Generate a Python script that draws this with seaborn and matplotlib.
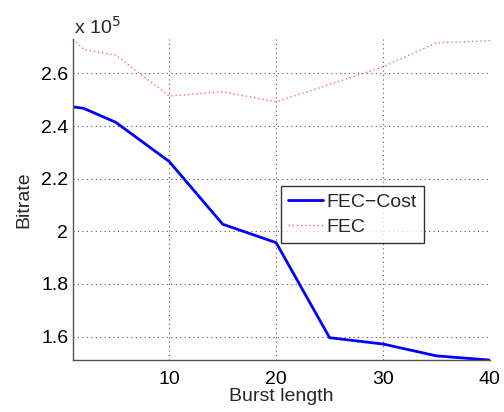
import matplotlib
matplotlib.use("Agg")
import matplotlib.pyplot as plt
import seaborn as sns
import pandas as pd
from matplotlib.ticker import FuncFormatter

burst = [1, 2, 5, 10, 15, 20, 25, 30, 35, 40]
fec_cost = [2.473e5, 2.467e5, 2.414e5, 2.265e5, 2.027e5, 1.957e5, 1.596e5, 1.572e5, 1.527e5, 1.511e5]
fec = [2.730e5, 2.691e5, 2.669e5, 2.514e5, 2.530e5, 2.492e5, 2.558e5, 2.625e5, 2.716e5, 2.724e5]

x_ticks = [10, 20, 30, 40]
y_ticks = [1.6e5, 1.8e5, 2.0e5, 2.2e5, 2.4e5, 2.6e5]

sns.set_style("white")
plt.rcParams['font.family'] = ['Liberation Sans', 'DejaVu Sans']

df = pd.DataFrame({"Burst length": burst * 2,
                   "Bitrate": fec_cost + fec,
                   "series": ["FEC\u2212Cost"] * len(burst) + ["FEC"] * len(burst)})

fig = plt.figure(figsize=(5.04, 4.12), dpi=100)
ax = fig.add_axes([0.145, 0.126, 0.827, 0.779])

sns.lineplot(data=df[df.series == "FEC\u2212Cost"], x="Burst length", y="Bitrate",
             color="#0000ff", lw=2.0, ax=ax, label="FEC\u2212Cost")
sns.lineplot(data=df[df.series == "FEC"], x="Burst length", y="Bitrate",
             color="#ff6666", lw=1.0, ls=(0, (1, 2)), ax=ax, label="FEC")

ax.set_xlim(1, 40)
ax.set_ylim(1.511e5, 2.730e5)
ax.set_xticks(x_ticks)
ax.set_yticks(y_ticks)
ax.yaxis.set_major_formatter(FuncFormatter(lambda v, p: f"{v/1e5:g}"))
ax.grid(True, color="#555555", ls=(0, (1, 3)), lw=0.8)
for s in ["top", "right"]:
    ax.spines[s].set_visible(False)
for s in ["left", "bottom"]:
    ax.spines[s].set_color("#555555")
    ax.spines[s].set_linewidth(1.0)
ax.tick_params(direction="in", length=4, width=0.8, colors="#555555",
               labelcolor="black", labelsize=14, top=False, right=False)
ax.tick_params(axis="x", pad=8)
ax.set_xlabel("Burst length", fontsize=14, labelpad=0)
ax.set_ylabel("Bitrate", fontsize=14, labelpad=6)
ax.text(0.003, 1.005, "x 10$^5$", transform=ax.transAxes, fontsize=14, ha="left", va="bottom")

leg = ax.legend(loc="upper left", bbox_to_anchor=(0.499, 0.542), fontsize=14,
                frameon=True, fancybox=False, edgecolor="black", handlelength=1.8,
                handletextpad=0.2, borderpad=0.35, labelspacing=0.4, borderaxespad=0)
leg.get_frame().set_linewidth(1.0)

fig.savefig("out.png", dpi=100)
